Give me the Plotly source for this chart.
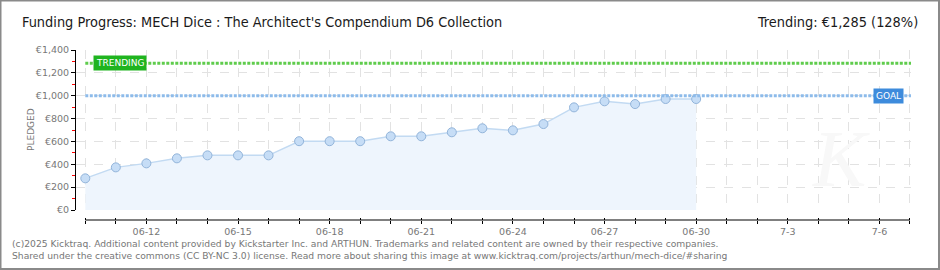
import plotly.graph_objects as go
import pandas as pd

# ---- data ----
dates = ["2025-06-10", "2025-06-11", "2025-06-12", "2025-06-13", "2025-06-14",
         "2025-06-15", "2025-06-16", "2025-06-17", "2025-06-18", "2025-06-19",
         "2025-06-20", "2025-06-21", "2025-06-22", "2025-06-23", "2025-06-24",
         "2025-06-25", "2025-06-26", "2025-06-27", "2025-06-28", "2025-06-29",
         "2025-06-30"]
pledged = [277, 373, 408, 452, 478, 478, 478, 602, 602, 602, 645, 645, 680,
           715, 697, 752, 898, 951, 927, 971, 971]
goal = 1000
trending = 1285
y_tick_vals = [0, 200, 400, 600, 800, 1000, 1200, 1400]
y_tick_text = ["€0", "€200", "€400", "€600", "€800", "€1,000", "€1,200", "€1,400"]
x_label_dates = ["2025-06-12", "2025-06-15", "2025-06-18", "2025-06-21",
                 "2025-06-24", "2025-06-27", "2025-06-30", "2025-07-03", "2025-07-06"]
x_label_text = ["06-12", "06-15", "06-18", "06-21", "06-24", "06-27", "06-30", "7-3", "7-6"]
axis_start = "2025-06-10"
axis_end = "2025-07-07"
title_text = "Funding Progress: MECH Dice : The Architect's Compendium D6 Collection"
trend_text = "Trending: €1,285 (128%)"
footer_lines = [
    "(c)2025 Kicktraq. Additional content provided by Kickstarter Inc. and ARTHUN. Trademarks and related content are owned by their respective companies.",
    "Shared under the creative commons (CC BY-NC 3.0) license. Read more about sharing this image at www.kicktraq.com/projects/arthun/mech-dice/#sharing",
]

# ---- geometry ----
W, H = 940, 270
L, R, T, B = 76, 911, 50, 220
ZERO_PX = 210


def px(x):
    return (x - L) / (R - L)


def py(y):
    return (B - y) / (B - T)


x_range = [pd.Timestamp(axis_start) - pd.Timedelta(hours=7.3),
           pd.Timestamp(axis_end) + pd.Timedelta(hours=0.8)]
all_days = pd.date_range(axis_start, axis_end, freq="D")
label_map = dict(zip(pd.to_datetime(x_label_dates), x_label_text))
day_text = [label_map.get(d, "") for d in all_days]

tick_font = dict(family="DejaVu Sans", size=9.5, color="#777777")
title_font = dict(family="DejaVu Sans Condensed, Liberation Sans", size=14.4,
                  color="#1a1a1a")

fig = go.Figure()
fig.add_trace(go.Scatter(
    x=dates, y=pledged, mode="lines+markers", fill="tozeroy",
    fillcolor="#eef5fd", line=dict(color="#c2daf2", width=1.5),
    marker=dict(size=9, color="#c6ddf6", line=dict(color="#92b4da", width=1)),
    showlegend=False, hoverinfo="x+y"))
for ax in ["x2", "x3"]:
    fig.add_trace(go.Scatter(x=dates, y=pledged, xaxis=ax, mode="markers",
                             marker=dict(opacity=0), showlegend=False, hoverinfo="skip"))

common_x = dict(type="date", range=x_range, zeroline=False, showline=False)
fig.update_layout(
    width=W, height=H,
    margin=dict(l=L, r=W - R, t=T, b=H - B),
    paper_bgcolor="white", plot_bgcolor="white",
    xaxis=dict(**common_x, showgrid=True, gridcolor="#e2e2e2", griddash="dash",
               tick0=axis_start, dtick=86400000, showticklabels=False, ticks=""),
    xaxis2=dict(**common_x, overlaying="x", anchor="free", position=0,
                tickmode="array", tickvals=all_days, ticktext=day_text,
                ticks="outside", ticklen=3, tickcolor="black", showgrid=False,
                tickfont=tick_font),
    xaxis3=dict(**common_x, overlaying="x", anchor="free", position=0,
                tickmode="array", tickvals=all_days, ticks="inside", ticklen=2,
                tickcolor="black", showgrid=False, showticklabels=False),
    yaxis=dict(domain=[(B - ZERO_PX) / (B - T), 1], range=[0, 1400],
               tickmode="array", tickvals=y_tick_vals, ticktext=y_tick_text,
               ticks="outside", ticklen=4, tickcolor="black",
               showline=True, linecolor="black", linewidth=1,
               showgrid=True, gridcolor="#e2e2e2", griddash="dash", zeroline=False,
               tickfont=tick_font,
               minor=dict(ticks="outside", ticklen=3, tickcolor="red",
                          dtick=100, tick0=0, showgrid=False)),
)

# axis line, reference lines, frame
fig.add_shape(type="line", xref="x", yref="paper", x0=axis_start, x1=axis_end,
              y0=0, y1=0, line=dict(color="black", width=1))
fig.add_shape(type="line", xref="x", yref="y", x0=dates[0], x1=x_range[1],
              y0=trending, y1=trending, line=dict(color="#5fcc4c", width=3, dash="3px,1.5px"))
fig.add_shape(type="line", xref="x", yref="y", x0=dates[0], x1=x_range[1],
              y0=goal, y1=goal, line=dict(color="#8dbbea", width=3, dash="3px,1.5px"))
fig.add_shape(type="rect", xref="paper", yref="paper", x0=px(0.5), x1=px(939),
              y0=py(269), y1=py(0.5), line=dict(color="#8a8a8a", width=2))

# watermark
fig.add_annotation(xref="paper", yref="paper", x=px(872), y=py(205), yanchor="bottom",
                   text="<i>K</i>", showarrow=False,
                   font=dict(family="Liberation Serif", size=80, color="#f8f8f8"))

# labels
fig.add_annotation(xref="paper", yref="y", x=px(93), y=trending, xanchor="left",
                   yanchor="middle", text="TRENDING", showarrow=False,
                   bgcolor="#1fb41f", borderpad=2,
                   font=dict(family="DejaVu Sans", size=9, color="white"))
fig.add_annotation(xref="paper", yref="y", x=px(904), y=goal, xanchor="right",
                   yanchor="middle", text="GOAL", showarrow=False,
                   bgcolor="#3d8bdc", borderpad=2,
                   font=dict(family="DejaVu Sans", size=9, color="white"))
fig.add_annotation(xref="paper", yref="paper", x=px(20), y=py(22), xanchor="left",
                   yanchor="middle", text=title_text, showarrow=False, font=title_font)
fig.add_annotation(xref="paper", yref="paper", x=px(920), y=py(22), xanchor="right",
                   yanchor="middle", text=trend_text, showarrow=False, font=title_font)
fig.add_annotation(xref="paper", yref="paper", x=px(24), y=py(130), textangle=-90,
                   text="PLEDGED", showarrow=False,
                   font=dict(family="DejaVu Sans", size=9, color="#777777"))
for i, line in enumerate(footer_lines):
    fig.add_annotation(xref="paper", yref="paper", x=px(10), y=py(243 + 12 * i),
                       xanchor="left", yanchor="middle", text=line, showarrow=False,
                       font=dict(family="DejaVu Sans", size=9.2, color="#777777"))

fig.write_html("out.html")
